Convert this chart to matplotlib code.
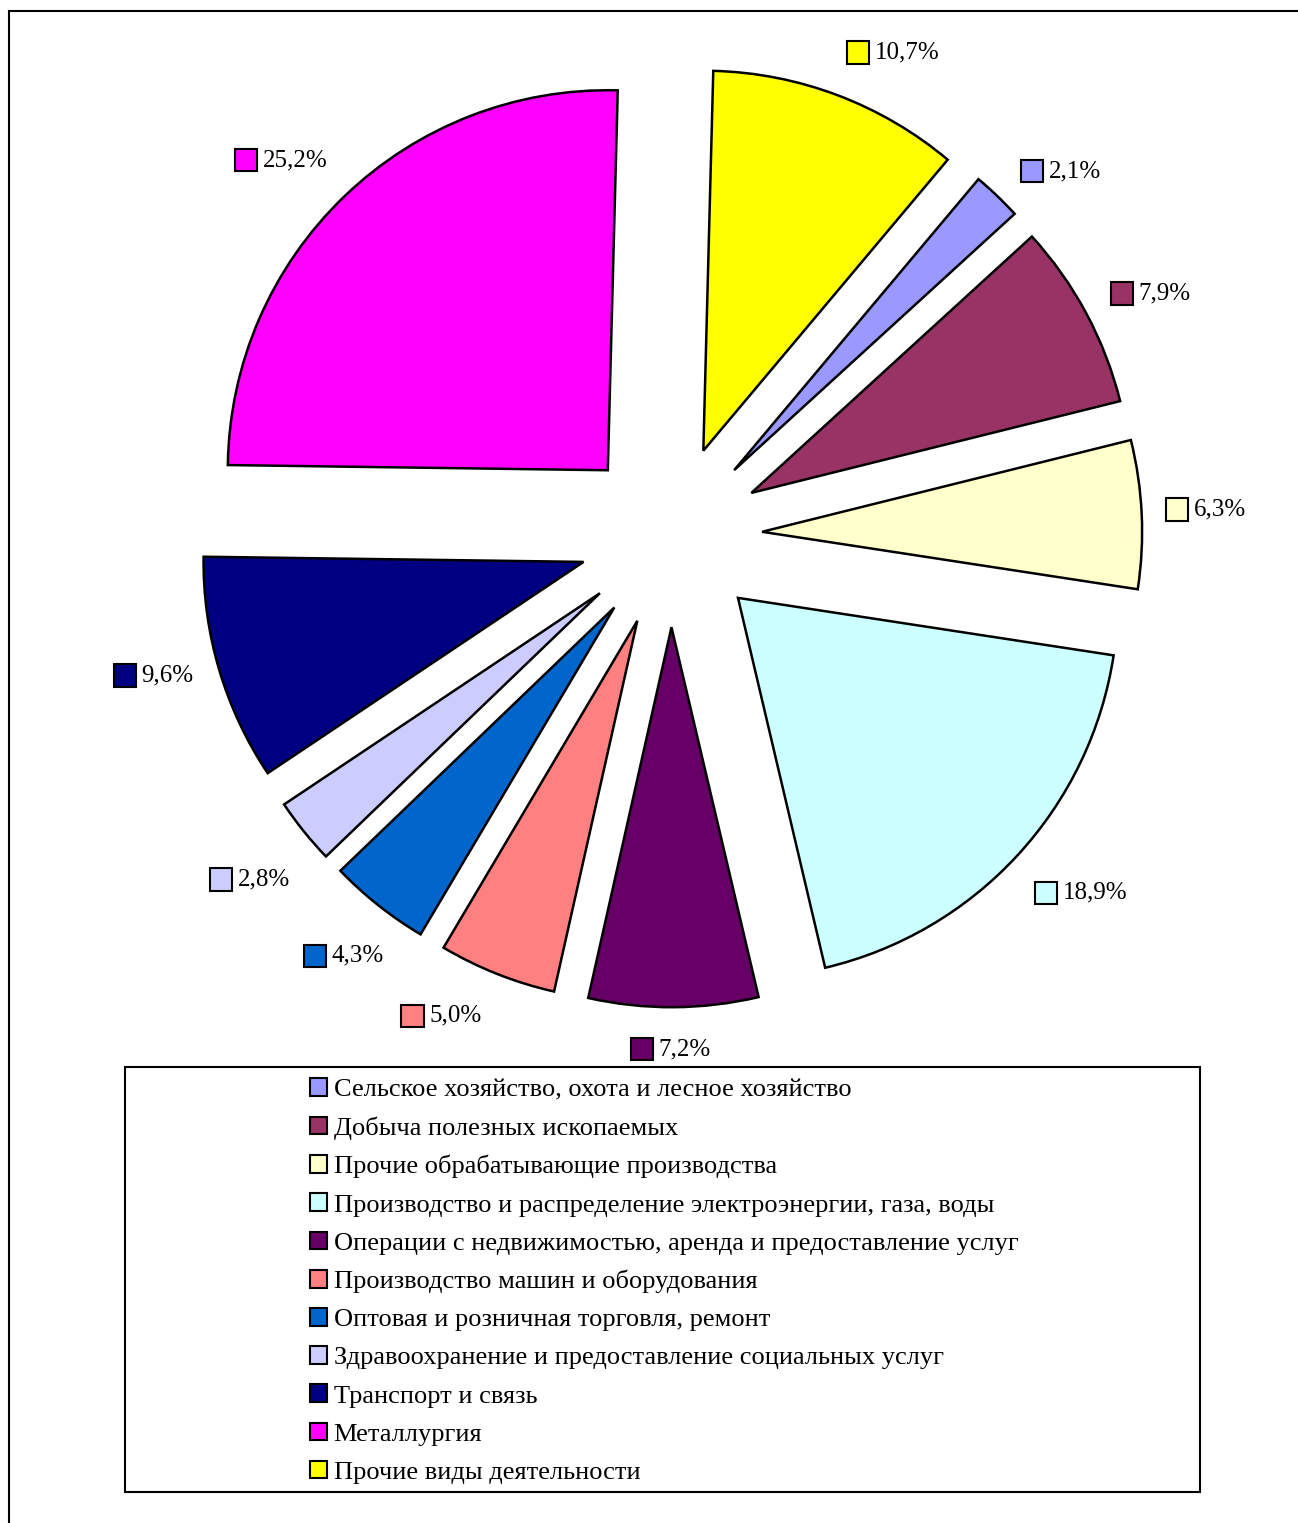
import matplotlib.pyplot as plt
from matplotlib.patches import Patch, Rectangle
from matplotlib.offsetbox import AnnotationBbox, DrawingArea, TextArea, HPacker
import numpy as np

plt.rcParams['font.family'] = ['Liberation Serif', 'DejaVu Serif']

sectors = [
	"Сельское хозяйство, охота и лесное хозяйство",
	"Добыча полезных ископаемых",
	"Прочие обрабатывающие производства",
	"Производство и распределение электроэнергии, газа, воды",
	"Операции с недвижимостью, аренда и предоставление услуг",
	"Производство машин и оборудования",
	"Оптовая и розничная торговля, ремонт",
	"Здравоохранение и предоставление социальных услуг",
	"Транспорт и связь",
	"Металлургия",
	"Прочие виды деятельности",
]
shares = [2.1, 7.9, 6.3, 18.9, 7.2, 5.0, 4.3, 2.8, 9.6, 25.2, 10.7]
colors = ['#9999FF', '#993366', '#FFFFCC', '#CCFFFF', '#660066', '#FF8080',
	'#0066CC', '#CCCCFF', '#000080', '#FF00FF', '#FFFF00']

# small layout tweaks for the value labels (degrees off the bisector, radius)
label_turn = [-3.1, -1.4, 0.2, 1.7, -0.3, -3.9, 0.5, 0.4, -1.4, 2.2, -3.9]
label_dist = [1.405, 1.415, 1.41, 1.43, 1.35, 1.40, 1.40, 1.43, 1.41, 1.425, 1.40]

W, H = 1298, 1523
fig = plt.figure(figsize=(W / 100, H / 100), dpi=100)

# pie placement in pixels
cx, cy = 671, 536
scale = 380.0
half_w, half_h = 600, 540
ax = fig.add_axes([(cx - half_w) / W, (H - cy - half_h) / H, 2 * half_w / W, 2 * half_h / H])

# last slice (yellow) starts just past 12 o'clock
start = 90 - shares[-1] / sum(shares) * 360 - 1.5
wedges, _ = ax.pie(shares, colors=colors, explode=[0.24] * len(shares),
	startangle=start, counterclock=False,
	wedgeprops=dict(edgecolor='black', linewidth=1.8))
ax.set_xlim(-half_w / scale, half_w / scale)
ax.set_ylim(-half_h / scale, half_h / scale)

# value labels with small colour squares
for w, v, c, t, d in zip(wedges, shares, colors, label_turn, label_dist):
	mid = np.deg2rad((w.theta1 + w.theta2) / 2 + t)
	pos = (d * np.cos(mid), d * np.sin(mid))
	da = DrawingArea(16, 16, 0, 0)
	da.add_artist(Rectangle((0, 0), 16, 16, facecolor=c, edgecolor='black', linewidth=1.5))
	ta = TextArea(f"{v:.1f}%".replace('.', ','), textprops=dict(fontsize=18))
	box = HPacker(children=[da, ta], align='center', pad=0, sep=4)
	ab = AnnotationBbox(box, pos, frameon=False, box_alignment=(0.5, 0.5), annotation_clip=False)
	ax.add_artist(ab)

# legend frame
fig.add_artist(Rectangle((125 / W, 1 - 1492 / H), 1075 / W, 425 / H, transform=fig.transFigure,
	facecolor='none', edgecolor='black', linewidth=1.5))
handles = [Patch(facecolor=c, edgecolor='black', linewidth=1.5) for c in colors]
fig.legend(handles, sectors, loc='center', bbox_to_anchor=(664 / W, 1 - 1281 / H),
	frameon=False, fontsize=19, handlelength=0.65, handleheight=0.65,
	handletextpad=0.25, labelspacing=0.57, borderpad=0)

# outer border (right and bottom fall outside the picture)
fig.add_artist(Rectangle((9 / W, -0.1), 2, 1.1 - 11 / H, transform=fig.transFigure,
	facecolor='none', edgecolor='black', linewidth=1.5))

fig.savefig("out.png", dpi=100)
